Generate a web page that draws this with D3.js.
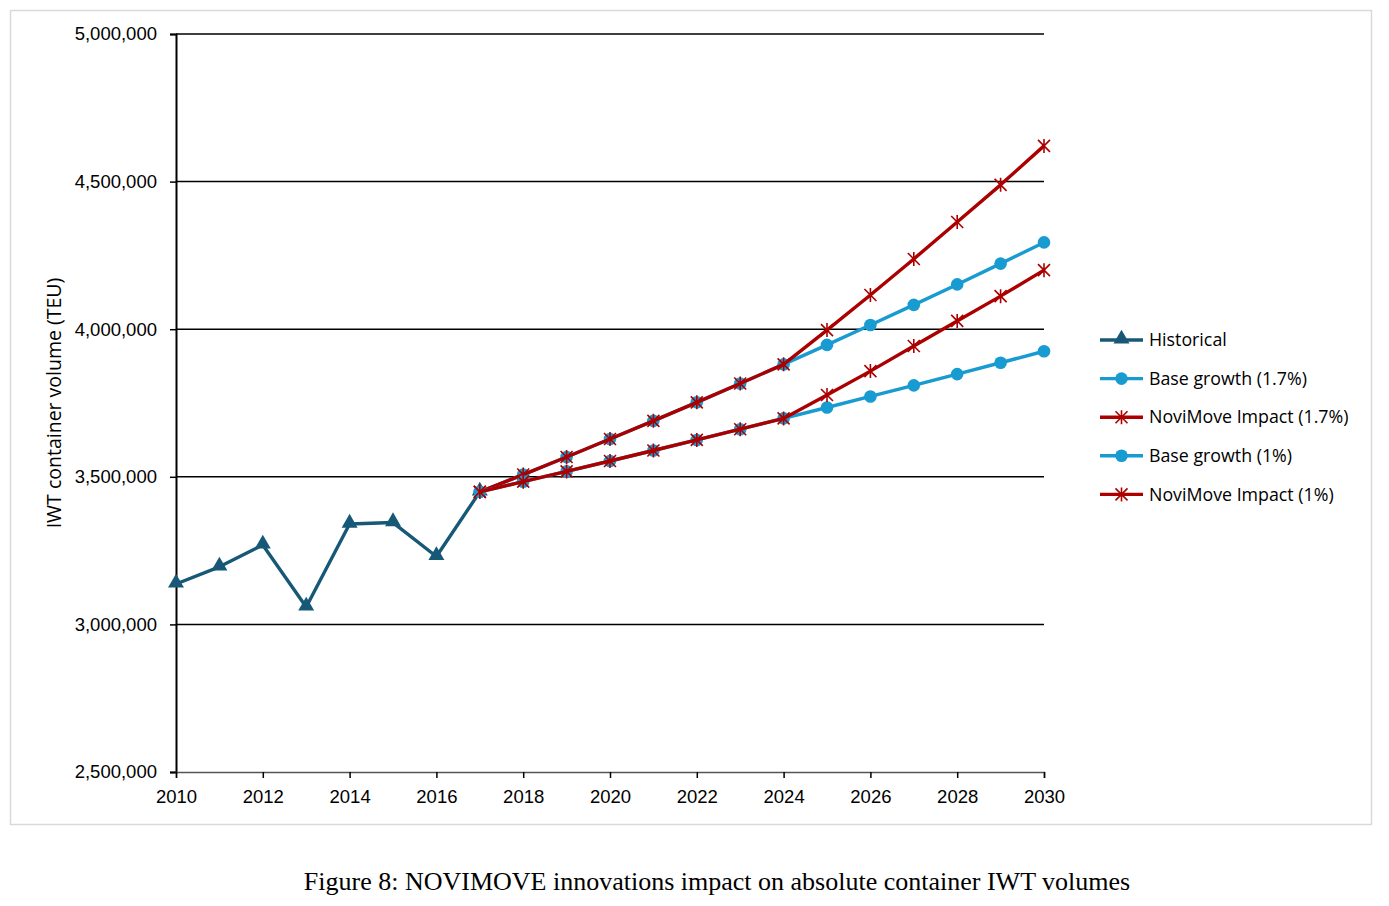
<!DOCTYPE html>
<html>
<head>
<meta charset="utf-8">
<script src="https://d3js.org/d3.v7.min.js"></script>
<style>
  body { margin: 0; background: #fff; }
  svg { display: block; }
</style>
</head>
<body>
<div id="chart"></div>
<script>
// values (TEU)
const histYears = [2010, 2011, 2012, 2013, 2014, 2015, 2016, 2017];
const historical = [3137000, 3195000, 3269000, 3059000, 3340000, 3345000, 3230000, 3449000];

const projYears = [2017, 2018, 2019, 2020, 2021, 2022, 2023, 2024, 2025, 2026, 2027, 2028, 2029, 2030];
const base17 = [3449000, 3507600, 3567200, 3627900, 3689500, 3752300, 3816100, 3880900, 3946900, 4014000, 4082300, 4151700, 4222200, 4294000];
const novi17 = [3449000, 3507600, 3567200, 3627900, 3689500, 3752300, 3816100, 3880900, 3997000, 4116000, 4238000, 4363000, 4489000, 4621000];
const base10 = [3449000, 3483500, 3518300, 3553500, 3589000, 3624900, 3661200, 3697800, 3734800, 3772100, 3809800, 3847900, 3886400, 3925300];
const novi10 = [3449000, 3483500, 3518300, 3553500, 3589000, 3624900, 3661200, 3697800, 3777000, 3858000, 3943000, 4028000, 4112000, 4200000];

const yTicks = [2500000, 3000000, 3500000, 4000000, 4500000, 5000000];
const xTicks = [2010, 2012, 2014, 2016, 2018, 2020, 2022, 2024, 2026, 2028, 2030];

const colHist = '#175877';
const colBase = '#179bd1';
const colNovi = '#ac0000';

const series = [
  { name: 'Historical', years: histYears, values: historical, color: colHist, marker: 'triangle' },
  { name: 'Base growth (1.7%)', years: projYears, values: base17, color: colBase, marker: 'circle' },
  { name: 'NoviMove Impact (1.7%)', years: projYears, values: novi17, color: colNovi, marker: 'star' },
  { name: 'Base growth (1%)', years: projYears, values: base10, color: colBase, marker: 'circle' },
  { name: 'NoviMove Impact (1%)', years: projYears, values: novi10, color: colNovi, marker: 'star' }
];

const W = 1389, H = 906;
const svg = d3.select('#chart').append('svg').attr('width', W).attr('height', H);

// outer frame
svg.append('rect')
  .attr('x', 10.5).attr('y', 10.5).attr('width', 1361).attr('height', 814)
  .attr('fill', 'none').attr('stroke', '#d9d9d9').attr('stroke-width', 1.5);

const x = d3.scaleLinear().domain([2010, 2030]).range([176, 1044]);
const y = d3.scaleLinear().domain([2500000, 5000000]).range([772, 34]);

// gridlines
svg.append('g')
  .selectAll('line')
  .data(yTicks.slice(1))
  .enter().append('line')
  .attr('x1', x(2010)).attr('x2', x(2030))
  .attr('y1', d => y(d)).attr('y2', d => y(d))
  .attr('stroke', '#000').attr('stroke-width', 1.5);

// y axis
const yAxis = svg.append('g')
  .attr('transform', `translate(${x(2010)},0)`)
  .call(d3.axisLeft(y).tickValues(yTicks).tickFormat(d3.format(',')).tickSize(6).tickPadding(13));
yAxis.select('.domain').attr('stroke', '#000').attr('stroke-width', 2);
yAxis.selectAll('.tick line').attr('stroke', '#000').attr('stroke-width', 1.5);
yAxis.selectAll('text')
  .attr('font-family', 'Liberation Sans, Arial, sans-serif')
  .attr('font-size', 18.5).attr('fill', '#000');

// x axis
const xAxis = svg.append('g')
  .attr('transform', `translate(0,${y(2500000)})`)
  .call(d3.axisBottom(x).tickValues(xTicks).tickFormat(d3.format('d')).tickSize(6).tickPadding(12));
xAxis.select('.domain').attr('stroke', '#555').attr('stroke-width', 1.5);
xAxis.selectAll('.tick line').attr('stroke', '#000').attr('stroke-width', 1.5);
xAxis.selectAll('text')
  .attr('font-family', 'Liberation Sans, Arial, sans-serif')
  .attr('font-size', 18.5).attr('fill', '#000');

// y axis title
svg.append('text')
  .attr('transform', `translate(61,${(y(2500000) + y(5000000)) / 2}) rotate(-90)`)
  .attr('text-anchor', 'middle')
  .attr('font-family', 'Open Sans, sans-serif')
  .attr('font-size', 19.5)
  .text('IWT container volume (TEU)');

function drawMarker(g, type, color) {
  if (type === 'triangle') {
    g.append('path').attr('d', d3.symbol().type(d3.symbolTriangle).size(110)())
      .attr('transform', 'translate(0,-1)')
      .attr('fill', color);
  } else if (type === 'circle') {
    g.append('circle').attr('r', 6.3).attr('fill', color);
  } else {
    const s = 6;
    g.append('path')
      .attr('d', `M${-s},${-s}L${s},${s}M${-s},${s}L${s},${-s}M0,${-s - 1}L0,${s + 1}`)
      .attr('stroke', color).attr('stroke-width', 1.6).attr('fill', 'none');
  }
}

const line = d3.line().x(d => x(d[0])).y(d => y(d[1]));

series.forEach(s => {
  const pts = s.years.map((yr, i) => [yr, s.values[i]]);
  const g = svg.append('g');
  g.append('path')
    .attr('d', line(pts))
    .attr('fill', 'none')
    .attr('stroke', s.color)
    .attr('stroke-width', 3.4)
    .attr('stroke-linejoin', 'round');
  g.selectAll('g.m')
    .data(pts)
    .enter().append('g')
    .attr('class', 'm')
    .attr('transform', d => `translate(${x(d[0])},${y(d[1])})`)
    .each(function() { drawMarker(d3.select(this), s.marker, s.color); });
});

// legend
const legend = svg.append('g').attr('transform', 'translate(1100,340)');
series.forEach((s, i) => {
  const row = legend.append('g').attr('transform', `translate(0,${i * 38.6})`);
  row.append('line').attr('x1', 0).attr('x2', 43).attr('y1', 0).attr('y2', 0)
    .attr('stroke', s.color).attr('stroke-width', 3.4);
  const m = row.append('g').attr('transform', 'translate(21.5,0)');
  drawMarker(m, s.marker, s.color);
  row.append('text')
    .attr('x', 49).attr('y', 0).attr('dy', '0.35em')
    .attr('font-family', 'Open Sans, sans-serif')
    .attr('font-size', 17.8)
    .text(s.name);
});

// caption
svg.append('text')
  .attr('x', 717).attr('y', 890)
  .attr('text-anchor', 'middle')
  .attr('font-family', 'Liberation Serif, Times New Roman, serif')
  .attr('font-size', 26)
  .attr('fill', '#000')
  .text('Figure 8: NOVIMOVE innovations impact on absolute container IWT volumes');
</script>
</body>
</html>
